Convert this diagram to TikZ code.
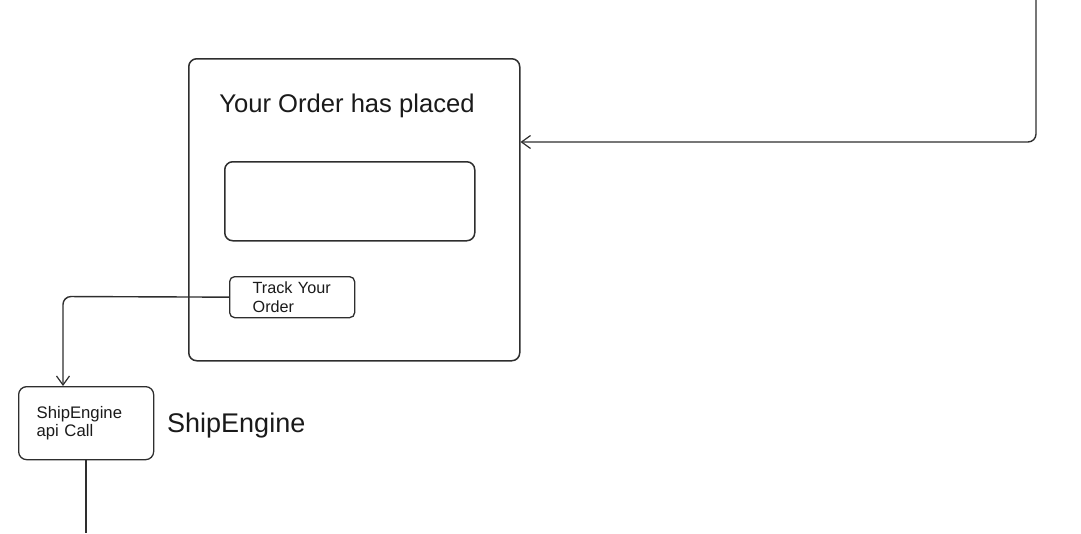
\documentclass[tikz,border=0pt]{standalone}
\usepackage{fontspec}
\setmainfont{Liberation Sans}
\usetikzlibrary{arrows.meta}
\definecolor{ink}{HTML}{2E2E2E}
\definecolor{txt}{HTML}{1A1A1A}
\begin{document}
\begin{tikzpicture}[x=1pt,y=-1pt,
  box/.style={draw=ink, line width=1.5pt, rounded corners=8pt},
  conn/.style={draw=ink, line width=1.4pt, rounded corners=8pt},
  arr/.style={-{Straight Barb[length=9pt,width=13pt,line width=1.2pt]}},
  lbl/.style={text=txt, inner sep=0pt}]
\useasboundingbox (0,0) rectangle (1081,533);
% main frame
\node[box, anchor=north west, minimum width=331pt, minimum height=302pt, inner sep=0pt] (big) at (188,58) {};
\node[lbl, font=\fontsize{25.6}{30}\selectfont, anchor=base] (title) at (347,112) {Your Order has placed};
\node[box, anchor=north west, minimum width=250pt, minimum height=79pt, inner sep=0pt] (field) at (224,161) {};
% track button
\node[box, line width=1.3pt, rounded corners=5pt, anchor=north west, minimum height=41pt, inner xsep=23pt, inner ysep=0pt, text width=79pt, align=left, text=txt, font=\fontsize{16.2}{18.5}\selectfont] (track) at (229,276) {Track Your\\Order};
% shipengine box
\node[box, line width=1.3pt, anchor=north west, minimum height=73pt, inner xsep=18pt, inner ysep=0pt, text width=99pt, align=left, text=txt, font=\fontsize{16.7}{18}\selectfont] (se) at (18,386) {ShipEngine\\api Call};
\node[lbl, font=\fontsize{27}{32}\selectfont, anchor=base west] (selabel) at (167,432) {ShipEngine};
% connectors
\coordinate (topin) at (1036,0);
\coordinate (k) at (0,142);
\coordinate (bottomout) at (86,533);
\draw[conn, arr] (topin) -- (1036,142) -- (big.east |- k);
\draw[conn, arr] (track.west) -- (63,296.5) -- (se.north -| 63,0);
\draw[conn] (se.south) -- (se.south |- bottomout);
\end{tikzpicture}
\end{document}
